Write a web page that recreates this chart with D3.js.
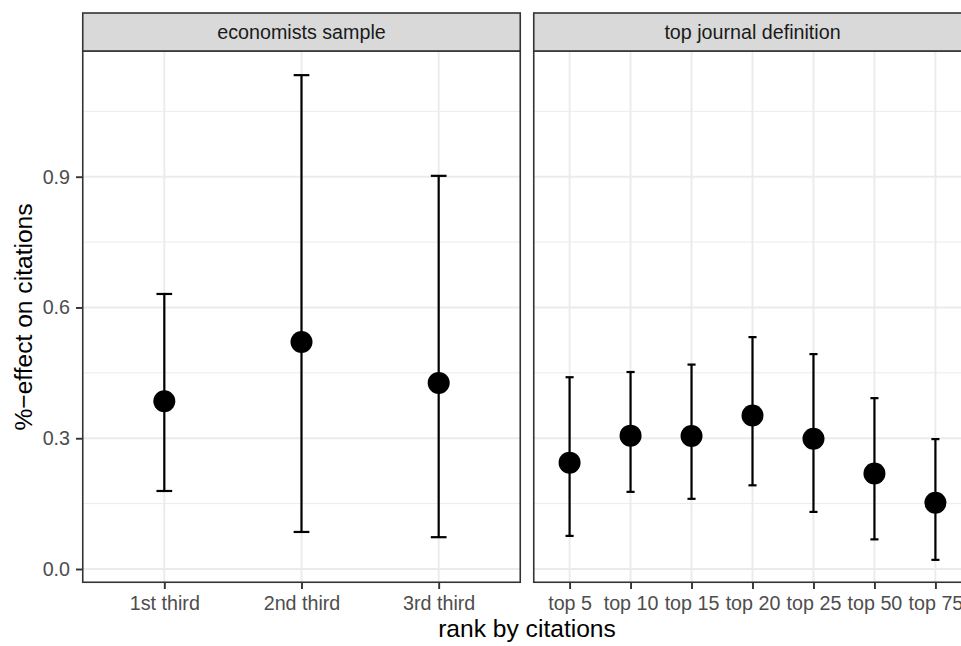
<!DOCTYPE html>
<html><head><meta charset="utf-8">
<script src="https://cdn.jsdelivr.net/npm/d3@7"></script>
<style>body{margin:0;background:#fff}svg{display:block;font-family:"Liberation Sans",Arial,Helvetica,sans-serif}</style>
</head><body><svg id="c" width="961" height="646"></svg>
<script>
// Data
const panelTitles = ["economists sample", "top journal definition"];
const econCats = ["1st third", "2nd third", "3rd third"];
const econEst = [0.385, 0.521, 0.427];
const econLo  = [0.179, 0.085, 0.073];
const econHi  = [0.631, 1.133, 0.902];
const topCats = ["top 5", "top 10", "top 15", "top 20", "top 25", "top 50", "top 75"];
const topEst = [0.244, 0.306, 0.305, 0.352, 0.299, 0.219, 0.152];
const topLo  = [0.076, 0.177, 0.161, 0.192, 0.131, 0.068, 0.021];
const topHi  = [0.440, 0.452, 0.469, 0.532, 0.493, 0.392, 0.298];
const yTicks = [0.0, 0.3, 0.6, 0.9];
const yMinor = [0.15, 0.45, 0.75, 1.05];
const xTitle = "rank by citations";
const yTitle = "%\u2212effect on citations";

const svg = d3.select("#c");
const FONT = '"Liberation Sans",Arial,Helvetica,sans-serif';
const panelTop = 51, panelBottom = 583, stripTop = 13;
const panelW = 439;
const panels = [
  {x0: 82, title: panelTitles[0], cats: econCats, est: econEst, lo: econLo, hi: econHi},
  {x0: 533, title: panelTitles[1], cats: topCats, est: topEst, lo: topLo, hi: topHi}
];
const y = d3.scaleLinear().domain([-0.0321, 1.1884]).range([panelBottom, panelTop]);

const defs = svg.append("defs");
panels.forEach((p, i) => {
  defs.append("clipPath").attr("id", "clip" + i).append("rect")
    .attr("x", p.x0).attr("y", panelTop).attr("width", panelW).attr("height", panelBottom - panelTop);
});

panels.forEach((p, i) => {
  const x = d3.scalePoint().domain(p.cats).range([p.x0, p.x0 + panelW]).padding(0.6);
  const g = svg.append("g");
  g.append("rect").attr("x", p.x0).attr("y", panelTop).attr("width", panelW).attr("height", panelBottom - panelTop).attr("fill", "#fff");
  const grid = g.append("g").attr("clip-path", `url(#clip${i})`);
  grid.selectAll("line.minor").data(yMinor).join("line")
    .attr("x1", p.x0).attr("x2", p.x0 + panelW).attr("y1", d => y(d)).attr("y2", d => y(d))
    .attr("stroke", "#EBEBEB").attr("stroke-width", 1);
  grid.selectAll("line.major").data(yTicks).join("line")
    .attr("x1", p.x0).attr("x2", p.x0 + panelW).attr("y1", d => y(d)).attr("y2", d => y(d))
    .attr("stroke", "#EBEBEB").attr("stroke-width", 1.9);
  grid.selectAll("line.vx").data(p.cats).join("line")
    .attr("x1", d => x(d)).attr("x2", d => x(d)).attr("y1", panelTop).attr("y2", panelBottom)
    .attr("stroke", "#EBEBEB").attr("stroke-width", 1.9);

  const capHalf = 0.05 * x.step();
  const marks = g.append("g").attr("clip-path", `url(#clip${i})`);
  p.cats.forEach((c, k) => {
    const cx = x(c);
    marks.append("line").attr("x1", cx).attr("x2", cx).attr("y1", y(p.lo[k])).attr("y2", y(p.hi[k]))
      .attr("stroke", "#000").attr("stroke-width", 2.2);
    [p.lo[k], p.hi[k]].forEach(v => {
      marks.append("line").attr("x1", cx - capHalf - 1).attr("x2", cx + capHalf + 1).attr("y1", y(v)).attr("y2", y(v))
        .attr("stroke", "#000").attr("stroke-width", 2.2);
    });
  });
  marks.selectAll("circle").data(p.cats).join("circle")
    .attr("cx", d => x(d)).attr("cy", (d, k) => y(p.est[k])).attr("r", 11).attr("fill", "#000");

  g.append("rect").attr("x", p.x0 + 0.75).attr("y", panelTop).attr("width", panelW - 1.5).attr("height", panelBottom - panelTop - 0.75)
    .attr("fill", "none").attr("stroke", "#333333").attr("stroke-width", 1.6);
  g.append("rect").attr("x", p.x0 + 0.75).attr("y", stripTop).attr("width", panelW - 1.5).attr("height", panelTop - stripTop)
    .attr("fill", "#D9D9D9").attr("stroke", "#333333").attr("stroke-width", 1.6);
  g.append("text").attr("x", p.x0 + panelW / 2).attr("y", 39)
    .attr("text-anchor", "middle").attr("font-size", 19.7).attr("fill", "#1A1A1A").text(p.title);

  const xa = g.append("g").attr("transform", `translate(0,${panelBottom})`)
    .call(d3.axisBottom(x).tickSize(6).tickPadding(7));
  xa.select(".domain").remove();
  xa.selectAll(".tick line").attr("stroke", "#333333").attr("stroke-width", 1.9);
  xa.selectAll(".tick text").attr("fill", "#4D4D4D").attr("font-size", 19.7).attr("font-family", FONT);
});

const ya = svg.append("g").attr("transform", `translate(82,0)`)
  .call(d3.axisLeft(y).tickValues(yTicks).tickFormat(d3.format(".1f")).tickSize(6).tickPadding(6));
ya.select(".domain").remove();
ya.selectAll(".tick line").attr("stroke", "#333333").attr("stroke-width", 1.9);
ya.selectAll(".tick text").attr("fill", "#4D4D4D").attr("font-size", 19.7).attr("font-family", FONT);

svg.append("text").attr("x", (82 + 533 + panelW) / 2).attr("y", 637).attr("text-anchor", "middle")
  .attr("font-size", 24.6).attr("fill", "#000").text(xTitle);
svg.append("text").attr("transform", `translate(32,${(panelTop + panelBottom) / 2}) rotate(-90)`)
  .attr("text-anchor", "middle").attr("font-size", 24.6).attr("fill", "#000").text(yTitle);
</script></body></html>
